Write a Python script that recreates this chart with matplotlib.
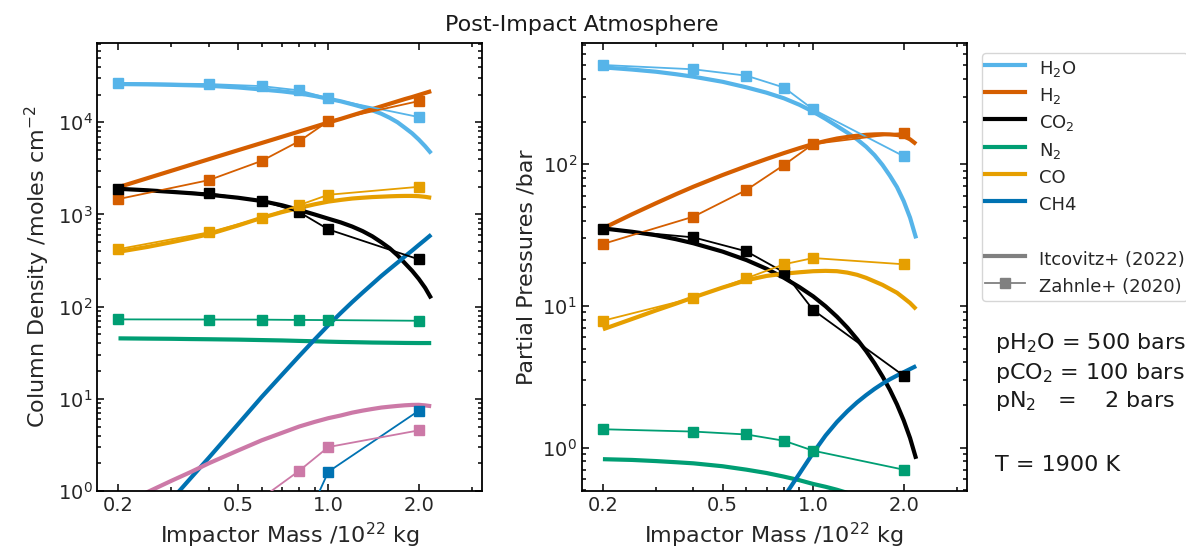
import numpy as np
import matplotlib
matplotlib.use("Agg")
import matplotlib.pyplot as plt
from matplotlib.lines import Line2D
from matplotlib.ticker import NullFormatter, FixedLocator, FixedFormatter

# ---------------- data ----------------
species = ["H$_2$O", "H$_2$", "CO$_2$", "N$_2$", "CO", "CH4", "NH3"]
colors = ["#56B4E9", "#D55E00", "#000000", "#009E73", "#E69F00", "#0072B2", "#CC79A7"]

# Itcovitz+ (2022) model curves
mass_fit = [0.2, 0.25, 0.3, 0.35, 0.4, 0.5, 0.6, 0.7, 0.8, 0.9, 1.0, 1.1,
            1.2, 1.3, 1.4, 1.5, 1.6, 1.7, 1.8, 1.9, 2.0, 2.1, 2.2]

# column densities [moles cm^-2]
col_h2o = [26000, 25800, 25500, 25200, 24900, 23900, 22700, 21700, 20600, 19300, 18000, 16900,
           15700, 14600, 13500, 12400, 11200, 10000, 8700, 7600, 6500, 5500, 4600]
col_h2 = [1980, 2480, 2980, 3480, 3980, 4980, 5970, 6960, 7950, 8950, 9950, 10900,
          11900, 12900, 13900, 14900, 15900, 16900, 17900, 18800, 19800, 20800, 21800]
col_co2 = [1900, 1830, 1760, 1700, 1640, 1520, 1400, 1260, 1120, 1000, 900, 820,
           740, 660, 580, 500, 430, 360, 295, 245, 200, 160, 123]
col_n2 = [45.3, 45.0, 44.8, 44.5, 44.3, 43.9, 43.4, 43.0, 42.5, 42.1, 41.7, 41.4,
          41.2, 41.0, 40.8, 40.7, 40.6, 40.5, 40.4, 40.35, 40.3, 40.3, 40.3]
col_co = [394, 445, 500, 555, 610, 760, 921, 1060, 1180, 1290, 1380, 1440,
          1490, 1520, 1545, 1560, 1575, 1585, 1590, 1590, 1580, 1555, 1518]
col_ch4 = [0.18, 0.41, 0.80, 1.41, 2.30, 5.3, 10.5, 18.2, 29.2, 44, 63, 85.5,
           112, 142, 176, 215, 256, 301, 352, 406, 467, 532, 604]
col_nh3 = [0.69, 0.975, 1.29, 1.62, 2.0, 2.75, 3.55, 4.27, 5.01, 5.62, 6.17, 6.6,
           7.08, 7.45, 7.76, 8.04, 8.22, 8.38, 8.51, 8.59, 8.61, 8.49, 8.32]

# partial pressures [bar]
p_h2o = [483, 466, 450, 432, 415, 382, 349, 320, 292, 263, 235, 209,
         186, 167, 150, 133, 116, 99, 83, 69, 55, 42, 30]
p_h2 = [35.3, 44.4, 53.1, 61.5, 69.5, 84, 97, 109, 120, 130, 139, 146,
        152, 156, 159, 161.4, 162.5, 163, 162.5, 161, 158, 150, 139]
p_co2 = [35.3, 33.4, 31.6, 29.6, 27.7, 24.2, 21.1, 18.3, 15.8, 13.6, 11.7, 9.95,
         8.4, 7.03, 5.83, 4.81, 3.94, 3.19, 2.56, 2.02, 1.56, 1.17, 0.835]
p_n2 = [0.83, 0.82, 0.805, 0.79, 0.776, 0.74, 0.70, 0.663, 0.625, 0.59, 0.555, 0.53,
        0.505, 0.48, 0.46, 0.44, 0.42, 0.40, 0.38, 0.36, 0.345, 0.33, 0.315]
p_co = [6.85, 8.1, 9.3, 10.4, 11.5, 13.5, 15.2, 16.3, 16.9, 17.3, 17.6, 17.7,
        17.6, 17.2, 16.6, 15.8, 14.9, 14.1, 13.2, 12.4, 11.4, 10.5, 9.5]
p_ch4 = [np.nan, np.nan, np.nan, np.nan, np.nan, np.nan, 0.18, 0.29, 0.45, 0.655, 0.92, 1.22,
         1.52, 1.81, 2.09, 2.35, 2.6, 2.83, 3.04, 3.23, 3.41, 3.59, 3.77]

# Zahnle+ (2020) points
mass_z = [0.2, 0.4, 0.6, 0.8, 1.0, 2.0]

zcol_h2o = [26800, 26000, 24700, 22200, 18200, 11400]
zcol_h2 = [1470, 2360, 3820, 6250, 10300, 17000]
zcol_co2 = [1900, 1690, 1410, 1060, 689, 326]
zcol_n2 = [72.8, 72.5, 72.3, 71.8, 71.5, 70.3]
zcol_co = [421, 640, 921, 1265, 1637, 1996]
zcol_ch4 = [np.nan, np.nan, np.nan, 0.33, 1.62, 7.43]
zcol_nh3 = [np.nan, np.nan, 0.84, 1.66, 3.0, 4.55]

zp_h2o = [502, 468, 422, 348, 244, 114]
zp_h2 = [27.4, 42.7, 65.9, 98.9, 139, 167]
zp_co2 = [34.9, 30.5, 24.3, 17.3, 9.37, 3.22]
zp_n2 = [1.35, 1.30, 1.24, 1.12, 0.953, 0.70]
zp_co = [7.87, 11.4, 15.7, 19.7, 21.8, 19.7]

xtick_vals = [0.2, 0.5, 1.0, 2.0]
xtick_labels = ["0.2", "0.5", "1.0", "2.0"]

# ---------------- figure ----------------
W, H = 1186, 556
fig = plt.figure(figsize=(W / 100, H / 100), dpi=100)
txtc = "#262626"

def fx(px):
    return px / W

def fy(py):
    return 1 - py / H

bottom = fy(491)
height = (491 - 43.3) / H
ax1 = fig.add_axes([fx(97.3), bottom, (481.7 - 97.3) / W, height])
ax2 = fig.add_axes([fx(581.7), bottom, (966.7 - 581.7) / W, height])

fit_col = [col_h2o, col_h2, col_co2, col_n2, col_co, col_ch4, col_nh3]
z_col = [zcol_h2o, zcol_h2, zcol_co2, zcol_n2, zcol_co, zcol_ch4, zcol_nh3]
fit_p = [p_h2o, p_h2, p_co2, p_n2, p_co, p_ch4]
z_p = [zp_h2o, zp_h2, zp_co2, zp_n2, zp_co]

for i, ys in enumerate(fit_col):
    ax1.plot(mass_fit, ys, color=colors[i], lw=3.0, solid_capstyle="butt", zorder=2)
for i, ys in enumerate(z_col):
    ax1.plot(mass_z, ys, color=colors[i], lw=1.3, marker="s", ms=6.5, zorder=3)
for i, ys in enumerate(fit_p):
    ax2.plot(mass_fit, ys, color=colors[i], lw=3.0, solid_capstyle="butt", zorder=2)
for i, ys in enumerate(z_p):
    ax2.plot(mass_z, ys, color=colors[i], lw=1.3, marker="s", ms=6.5, zorder=3)

for ax in (ax1, ax2):
    ax.set_xscale("log")
    ax.set_yscale("log")
    ax.set_xlim(0.17, 3.24)
    ax.xaxis.set_major_locator(FixedLocator(xtick_vals))
    ax.xaxis.set_major_formatter(FixedFormatter(xtick_labels))
    ax.xaxis.set_minor_formatter(NullFormatter())
    ax.tick_params(which="both", direction="in", top=True, right=True,
                   labelsize=14, labelcolor=txtc, width=1.1)
    ax.tick_params(which="major", length=5)
    ax.tick_params(which="minor", length=3)
    for s in ax.spines.values():
        s.set_linewidth(1.3)
    ax.set_xlabel("Impactor Mass /10$^{22}$ kg", fontsize=16, color=txtc)

ax1.set_ylim(1, 7.2e4)
ax2.set_ylim(0.495, 714)
ax1.set_ylabel("Column Density /moles cm$^{-2}$", fontsize=16, color=txtc)
ax2.set_ylabel("Partial Pressures /bar", fontsize=16, color=txtc)

fig.text(fx(581.7), fy(31), "Post-Impact Atmosphere", ha="center", va="baseline",
         fontsize=16, color="#1a1a1a")

handles = [Line2D([], [], color=colors[i], lw=3) for i in range(6)]
handles.append(Line2D([], [], color="none"))
handles.append(Line2D([], [], color="gray", lw=3))
handles.append(Line2D([], [], color="gray", lw=1.3, marker="s", ms=6.5))
labels = species[:6] + [" ", "Itcovitz+ (2022)", "Zahnle+ (2020)"]
leg = fig.legend(handles, labels, loc="upper left", bbox_to_anchor=(fx(982.3), fy(53.3)),
                 borderaxespad=0, fontsize=13, labelspacing=0.16, handlelength=2.2,
                 handleheight=1.7, borderpad=0.14, frameon=True)
for t in leg.get_texts():
    t.set_color(txtc)

info = [("pH$_2$O = 500 bars", 349.3), ("pCO$_2$ = 100 bars", 379.3),
        ("pN$_2$   =    2 bars", 407.3), ("T = 1900 K", 470.7)]
for s, yb in info:
    fig.text(fx(995), fy(yb), s, ha="left", va="baseline", fontsize=16, color="#1a1a1a")

fig.savefig("out.png", dpi=100)
